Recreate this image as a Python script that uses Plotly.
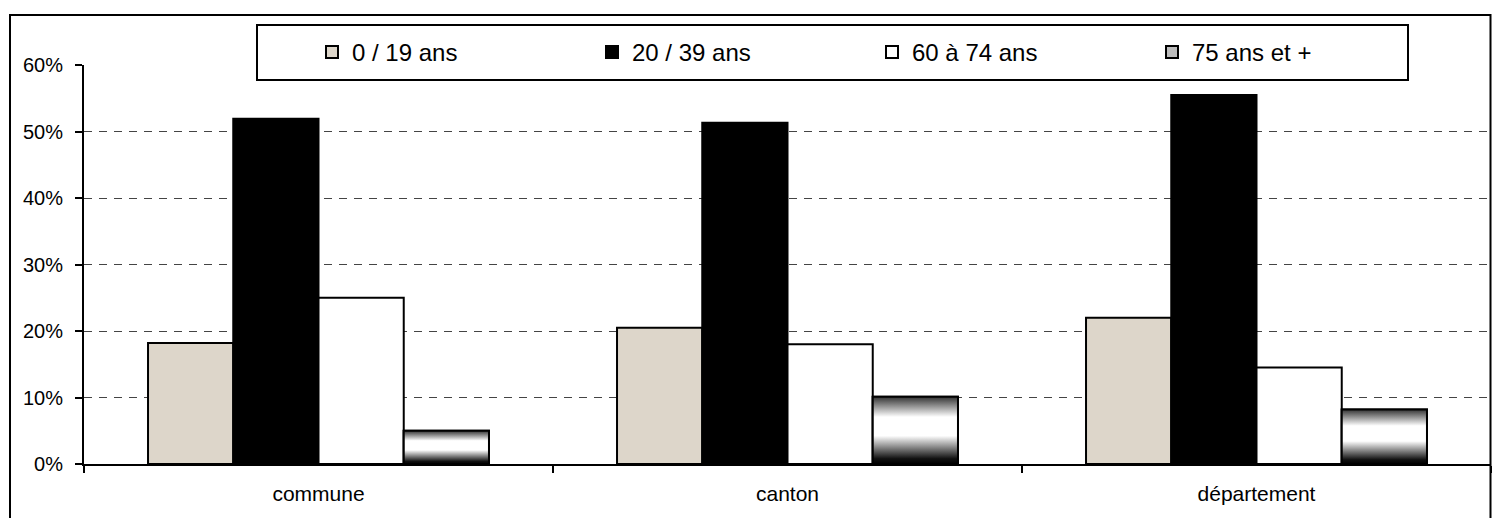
import plotly.graph_objects as go

# Age structure by territory (share of population)
categories = ["commune", "canton", "département"]
series_names = ["0 / 19 ans", "20 / 39 ans", "60 à 74 ans", "75 ans et +"]
age_0_19 = [0.182, 0.205, 0.220]
age_20_39 = [0.519, 0.513, 0.555]
age_60_74 = [0.250, 0.180, 0.145]
age_75_plus = [0.050, 0.101, 0.082]
y_ticks = [0, 0.1, 0.2, 0.3, 0.4, 0.5, 0.6]

W, H = 1493, 518
M_L, M_R, M_T, M_B = 84, 2, 65, 54
PLOT_W = W - M_L - M_R
PLOT_H = H - M_T - M_B


def px_x(px):
    return (px - M_L) / PLOT_W


def px_y(py):
    return (H - M_B - py) / PLOT_H


BARGAP = 0.273
N_SERIES = 4
bar_w = (1 - BARGAP) / N_SERIES

FONT = "Liberation Sans, Arial, sans-serif"
outline = dict(color="black", width=2)

fig = go.Figure()
fig.add_bar(x=categories, y=age_0_19, name=series_names[0],
            marker=dict(color="#DDD6CA", line=outline))
fig.add_bar(x=categories, y=age_20_39, name=series_names[1],
            marker=dict(color="#000000", line=outline))
fig.add_bar(x=categories, y=age_60_74, name=series_names[2],
            marker=dict(color="#FFFFFF", line=outline))
fig.add_bar(x=categories, y=age_75_plus, name=series_names[3],
            marker=dict(color="#BDBDBD", line=outline))

# Shaded (cylinder-like) fill for the 75+ bars, laid over the plain bars
shade = [[0.0, "#000000"], [0.08, "#111111"], [0.42, "#FFFFFF"],
         [0.70, "#FFFFFF"], [1.0, "#333333"]]
for i, v in enumerate(age_75_plus):
    c = i + (3 - (N_SERIES - 1) / 2) * bar_w
    x0, x1 = c - bar_w / 2, c + bar_w / 2
    fig.add_scatter(
        x=[x0, x0, x1, x1, x0], y=[0, v, v, 0, 0],
        xaxis="x2", yaxis="y", mode="lines", fill="toself",
        line=dict(color="black", width=2),
        fillgradient=dict(type="vertical", colorscale=shade, start=0, stop=v),
        showlegend=False, hoverinfo="skip",
    )

fig.update_layout(
    width=W, height=H,
    margin=dict(l=M_L, r=M_R, t=M_T, b=M_B),
    paper_bgcolor="white", plot_bgcolor="white",
    barmode="group", bargap=BARGAP, bargroupgap=0,
    font=dict(family=FONT, color="black"),
    xaxis=dict(
        type="category", tickson="boundaries", ticks="outside",
        ticklen=7, tickwidth=1.5, tickcolor="black",
        showline=True, linecolor="black", linewidth=2,
        showgrid=False, tickfont=dict(size=21), ticklabelstandoff=10,
    ),
    xaxis2=dict(overlaying="x", range=[-0.5, 2.5], visible=False),
    yaxis=dict(
        range=[0, 0.6], tickvals=y_ticks, tickformat=".0%",
        ticks="outside", ticklen=7, tickwidth=1.5, tickcolor="black",
        showline=True, linecolor="black", linewidth=2,
        showgrid=True, gridcolor="#444444", gridwidth=1, griddash="8px,7px",
        zeroline=False, tickfont=dict(size=20), ticklabelstandoff=8,
    ),
    legend=dict(
        orientation="h", x=px_x(312), xanchor="left",
        y=px_y(52.5), yanchor="middle",
        bgcolor="rgba(0,0,0,0)", borderwidth=0,
        entrywidth=235, entrywidthmode="pixels",
        font=dict(size=24, family=FONT), traceorder="normal",
    ),
    shapes=[
        # outer frame
        dict(type="rect", xref="paper", yref="paper",
             x0=px_x(10), x1=px_x(1490.5), y0=px_y(540), y1=px_y(15),
             line=dict(color="black", width=2), fillcolor="rgba(0,0,0,0)",
             layer="above"),
        # legend box
        dict(type="rect", xref="paper", yref="paper",
             x0=px_x(257), x1=px_x(1408), y0=px_y(80), y1=px_y(25),
             line=dict(color="black", width=2), fillcolor="white",
             layer="above"),
    ],
)

fig.write_html("out.html")
